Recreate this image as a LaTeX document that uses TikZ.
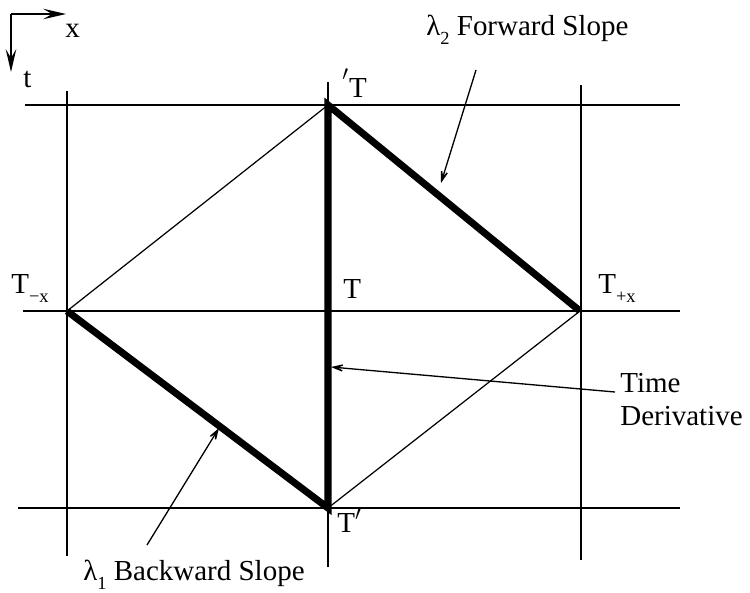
\documentclass[tikz,border=0pt]{standalone}
\usepackage{fontspec}
\setmainfont{Liberation Serif}
\usetikzlibrary{arrows.meta}
\newcommand{\lowidx}[1]{\raisebox{-0.32em}{\fontsize{10.5}{10.5}\selectfont #1}}
\tikzstyle{grid} = [draw,line width=0.8pt]
\tikzstyle{rib} = [draw,line width=0.7pt]
\tikzstyle{heavy} = [draw,line width=4pt,line join=miter]
\tikzstyle{pointer} = [draw,line width=0.75pt,-{Stealth[length=11pt,width=7pt,inset=7pt]}]
\tikzstyle{axis} = [draw,line width=1.1pt,-{Stealth[length=13pt,width=6pt,inset=5pt]}]
\tikzstyle{lbl} = [font=\fontsize{16.5}{18.7}\selectfont,inner sep=0pt]

\begin{document}
\begin{tikzpicture}[x=0.02cm,y=-0.02cm]
    \useasboundingbox (0,0) rectangle (750,592);
    \coordinate (top) at (328,105);
    \coordinate (left) at (67,311);
    \coordinate (right) at (580,311);
    \coordinate (bot) at (328,508);
    % grid
    \draw[grid] (25,105) -- (680,105);
    \draw[grid] (23,311) -- (680,311);
    \draw[grid] (18,508) -- (680,508);
    \draw[grid] (67,91) -- (67,556);
    \draw[grid] (328,82) -- (328,567);
    \draw[grid] (581,85) -- (581,560);
    % characteristics
    \draw[rib] (left) -- (top);
    \draw[rib] (bot) -- (right);
    \draw[heavy] (left) -- (bot) -- (top) -- (right);
    % axes
    \coordinate (o) at (11,14);
    \coordinate (xend) at (66,14);
    \coordinate (tend) at (11,72);
    \draw[axis] (o) -- (xend);
    \draw[axis] (o) -- (tend);
    \node[lbl, anchor=base west] (xl) at (65,37) {x};
    \node[lbl, anchor=base west] (tl) at (23,87) {t};
    % grid values
    \node[lbl, anchor=base west] (Tup) at (342,97) {\raisebox{3pt}{$^{\prime}$}T};
    \node[lbl, anchor=base west] (Tmx) at (11,293) {T\lowidx{−x}};
    \node[lbl, anchor=base west] (Tc) at (343,298) {T};
    \node[lbl, anchor=base west] (Tpx) at (598,293) {T\lowidx{+x}};
    \node[lbl, anchor=base west] (Tdn) at (337,532) {T$^{\prime}$};
    % slopes
    \node[lbl, anchor=base west] (fwd) at (426,35) {λ\lowidx{2} Forward Slope};
    \node[lbl, anchor=base east] (bwd) at (305,580) {λ\lowidx{1} Backward Slope};
    \node[lbl, align=left, anchor=base west] (tder) at (620,425) {Time\\Derivative};
    \coordinate (fwdtail) at (476,70);
    \coordinate (fwdhead) at (441,183);
    \coordinate (bwdtail) at (147,545);
    \coordinate (bwdhead) at (219,428);
    \coordinate (tdtail) at (615,392);
    \coordinate (tdhead) at (331,367);
    \draw[pointer] (fwdtail) -- (fwdhead);
    \draw[pointer] (bwdtail) -- (bwdhead);
    \draw[pointer] (tdtail) -- (tdhead);
\end{tikzpicture}
\end{document}
